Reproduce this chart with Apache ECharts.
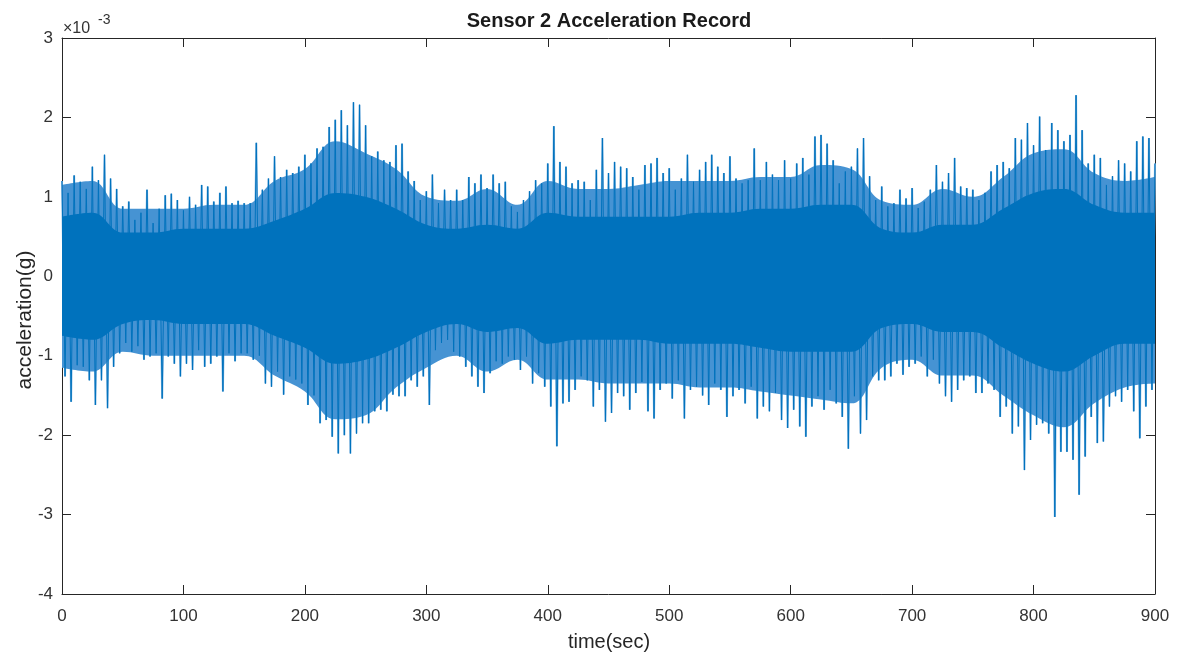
<!DOCTYPE html>
<html>
<head>
<meta charset="utf-8">
<script src="https://cdn.jsdelivr.net/npm/echarts@6/dist/echarts.min.js"></script>
<style>
html,body{margin:0;padding:0;background:#fff;}
#chart{width:1185px;height:657px;}
</style>
</head>
<body>
<div id="chart"></div>
<script>
// Values in units of 1e-3 g
const title = 'Sensor 2 Acceleration Record';
const xName = 'time(sec)';
const yName = 'acceleration(g)';
const xTicks = [0, 100, 200, 300, 400, 500, 600, 700, 800, 900];
const yTicks = [-4, -3, -2, -1, 0, 1, 2, 3];
const peakStep = 5;   // seconds between successive positive peaks
const bandStep = 25;  // seconds between band readings

// positive peaks at t = 0,5,...,900
const upperPeaks = [
 1.20,1.05,1.27,1.19,1.10,1.38,1.21,1.53,1.23,1.10,
 0.88,0.94,0.71,0.80,1.09,0.67,0.85,1.02,1.04,0.96,
 0.83,1.00,0.90,1.15,1.13,0.94,1.05,1.13,0.92,0.95,
 0.92,0.92,1.68,1.09,1.23,1.51,1.25,1.34,1.30,1.38,
 1.53,1.42,1.61,1.63,1.88,1.97,2.09,1.90,2.19,2.16,
 1.90,1.51,1.57,1.46,1.44,1.65,1.67,1.32,1.20,0.96,
 1.07,1.28,0.92,1.09,0.96,1.09,0.96,1.25,1.17,1.28,
 1.11,1.28,1.17,1.19,0.88,0.81,0.96,1.07,1.21,1.17,
 1.42,1.89,1.44,1.38,1.17,1.21,1.19,0.96,1.34,1.74,
 1.30,1.44,1.38,1.36,1.25,1.09,1.40,1.42,1.49,1.30,
 1.36,1.09,1.23,1.53,1.19,1.34,1.44,1.53,1.38,1.30,
 1.51,1.23,1.17,1.21,1.61,1.21,1.44,1.28,1.21,1.46,
 1.23,1.42,1.49,1.28,1.76,1.78,1.67,1.46,1.17,1.32,
 1.38,1.61,1.74,1.26,0.96,1.13,0.88,0.92,1.09,0.98,
 1.11,0.86,0.94,1.09,1.40,1.19,1.30,1.49,1.13,1.11,
 1.09,0.96,1.05,1.32,1.40,1.44,1.36,1.74,1.72,1.93,
 1.65,2.01,1.59,1.93,1.84,1.70,1.78,2.28,1.84,1.42,
 1.53,1.49,1.15,1.26,1.46,1.42,1.32,1.70,1.76,1.74,
 1.42
];
// negative peaks at t = 2.5,7.5,...,897.5
const lowerPeaks = [
 -1.26,-1.58,-1.12,-1.14,-1.31,-1.62,-1.31,-1.66,-1.14,-0.97,
 -0.84,-0.95,-0.88,-1.05,-1.01,-0.97,-1.54,-1.01,-1.10,-1.26,
 -1.10,-1.18,-0.93,-1.14,-1.10,-1.01,-1.45,-0.97,-1.07,-0.97,
 -0.97,-1.05,-1.00,-1.35,-1.39,-1.20,-1.49,-1.26,-1.30,-1.35,
 -1.62,-1.50,-1.85,-1.81,-2.02,-2.23,-2.00,-2.23,-1.98,-1.85,
 -1.85,-1.70,-1.68,-1.70,-1.49,-1.51,-1.51,-1.31,-1.39,-1.26,
 -1.62,-0.93,-0.84,-0.80,-0.95,-1.01,-1.14,-1.26,-1.39,-1.47,
 -1.22,-1.07,-1.10,-1.01,-1.05,-1.18,-1.01,-1.35,-1.22,-1.39,
 -1.64,-2.14,-1.60,-1.58,-1.43,-1.26,-1.31,-1.64,-1.43,-1.83,
 -1.72,-1.47,-1.51,-1.68,-1.47,-1.33,-1.70,-1.79,-1.43,-1.35,
 -1.54,-1.31,-1.79,-1.43,-1.39,-1.50,-1.62,-1.35,-1.43,-1.77,
 -1.51,-1.43,-1.60,-1.39,-1.79,-1.64,-1.70,-1.47,-1.81,-1.91,
 -1.68,-1.89,-2.02,-1.64,-1.51,-1.68,-1.43,-1.60,-1.77,-2.17,
 -1.51,-1.98,-1.81,-1.26,-1.31,-1.31,-1.26,-1.10,-1.24,-1.14,
 -1.10,-1.01,-1.26,-1.05,-1.35,-1.51,-1.58,-1.43,-1.31,-1.26,
 -1.47,-1.47,-1.35,-1.43,-1.77,-1.64,-1.98,-1.89,-2.44,-2.06,
 -1.87,-1.85,-1.98,-3.03,-2.21,-2.21,-2.31,-2.75,-2.27,-1.77,
 -2.10,-2.08,-1.64,-1.51,-1.58,-1.43,-1.70,-2.04,-1.64,-1.43
];
// dense (solid) core of the record, t = 0,25,...,900
const coreUpper = [0.75,0.80,0.55,0.55,0.60,0.60,0.60,0.70,0.85,1.05,1.00,0.85,0.65,0.60,0.65,0.60,0.80,0.75,0.75,0.75,0.75,0.80,0.80,0.85,0.85,0.90,0.90,0.60,0.55,0.65,0.65,0.85,1.05,1.10,0.90,0.80,0.80];
const coreLower = [-0.75,-0.80,-0.60,-0.55,-0.60,-0.60,-0.60,-0.75,-0.90,-1.10,-1.05,-0.90,-0.70,-0.60,-0.70,-0.65,-0.85,-0.80,-0.80,-0.80,-0.85,-0.85,-0.85,-0.90,-0.95,-0.95,-0.95,-0.65,-0.60,-0.70,-0.70,-0.90,-1.10,-1.20,-1.00,-0.85,-0.85];
// zone of dense spikes around the core, t = 0,25,...,900
const denseUpper = [1.15,1.20,0.85,0.85,0.85,0.90,0.90,1.20,1.35,1.70,1.55,1.35,1.00,0.95,1.10,0.90,1.20,1.10,1.10,1.15,1.20,1.20,1.20,1.25,1.25,1.40,1.35,0.95,0.90,1.10,1.00,1.25,1.55,1.60,1.30,1.20,1.25];
const denseLower = [-1.15,-1.20,-0.95,-1.00,-1.00,-1.00,-1.00,-1.25,-1.45,-1.80,-1.75,-1.40,-1.15,-1.00,-1.20,-1.05,-1.30,-1.30,-1.35,-1.35,-1.35,-1.40,-1.40,-1.45,-1.50,-1.55,-1.60,-1.15,-1.05,-1.25,-1.25,-1.50,-1.75,-1.90,-1.60,-1.40,-1.35];

// build the trace: alternate positive and negative peaks
const trace = [];
for (let i = 0; i < upperPeaks.length; i++) {
  trace.push([i * peakStep, upperPeaks[i]]);
  if (i < lowerPeaks.length) trace.push([i * peakStep + peakStep / 2, lowerPeaks[i]]);
}
const bandPts = arr => arr.map((v, i) => [i * bandStep, v]);

const BLUE = '#0072BD';
const LIGHT = '#4693d3';
const HALO = '#8bbbe4';
const AX = '#262626';
const FONT = 'Liberation Sans, Arial, Helvetica, sans-serif';

const chart = echarts.init(document.getElementById('chart'), null, {renderer: 'canvas'});
const xBase = {
  type: 'value', min: xTicks[0], max: xTicks[xTicks.length - 1], interval: 100,
  axisLine: {show: true, onZero: false, lineStyle: {color: AX, width: 1}},
  axisTick: {show: true, inside: true, length: 9, lineStyle: {color: AX}},
  splitLine: {show: false}
};
const yBase = {
  type: 'value', min: yTicks[0], max: yTicks[yTicks.length - 1], interval: 1,
  axisLine: {show: true, onZero: false, lineStyle: {color: AX, width: 1}},
  axisTick: {show: true, inside: true, length: 9, lineStyle: {color: AX}},
  splitLine: {show: false}
};
// each half of a band is an area reaching a little past zero, so the halves overlap
const halfBand = (arr, origin, color, z) => ({
  type: 'line', data: bandPts(arr), showSymbol: false, z: z, silent: true, smooth: 0.4,
  lineStyle: {width: 0, opacity: 0},
  areaStyle: {color: color, opacity: 1, origin: origin}
});
chart.setOption({
  animation: false,
  backgroundColor: '#fff',
  grid: {left: 62, top: 38, width: 1093, height: 556, containLabel: false},
  xAxis: [
    Object.assign({}, xBase, {position: 'bottom',
      axisLabel: {show: true, margin: 14, color: '#333', fontSize: 17, fontFamily: FONT}}),
    Object.assign({}, xBase, {position: 'top', axisLabel: {show: false}})
  ],
  yAxis: [
    Object.assign({}, yBase, {position: 'left',
      axisLabel: {show: true, margin: 9, color: '#333', fontSize: 17, fontFamily: FONT}}),
    Object.assign({}, yBase, {position: 'right', axisLabel: {show: false}})
  ],
  series: [
    {type: 'line', data: trace, showSymbol: false, z: 0, sampling: null, silent: true,
     lineStyle: {color: HALO, width: 2}},
    halfBand(denseUpper, -0.3, LIGHT, 1),
    halfBand(denseLower, 0.3, LIGHT, 1),
    halfBand(coreUpper, -0.3, BLUE, 2),
    halfBand(coreLower, 0.3, BLUE, 2),
    {type: 'line', data: trace, showSymbol: false, z: 3, sampling: null,
     lineStyle: {color: BLUE, width: 1}}
  ],
  graphic: [
    {type: 'text', x: 609, y: 21, style: {text: title, textAlign: 'center', textVerticalAlign: 'middle',
      font: 'bold 20px ' + FONT, fill: '#1a1a1a'}},
    {type: 'text', x: 609, y: 642, style: {text: xName, textAlign: 'center', textVerticalAlign: 'middle',
      font: '20px ' + FONT, fill: '#262626'}},
    {type: 'text', x: 25, y: 320, rotation: Math.PI / 2, style: {text: yName, textAlign: 'center', textVerticalAlign: 'middle',
      font: '21px ' + FONT, fill: '#262626'}},
    {type: 'text', x: 63, y: 29, style: {text: '×10', textVerticalAlign: 'middle',
      font: '16px ' + FONT, fill: '#333'}},
    {type: 'text', x: 98, y: 20, style: {text: '-3', textVerticalAlign: 'middle',
      font: '14px ' + FONT, fill: '#333'}}
  ]
});
</script>
</body>
</html>
